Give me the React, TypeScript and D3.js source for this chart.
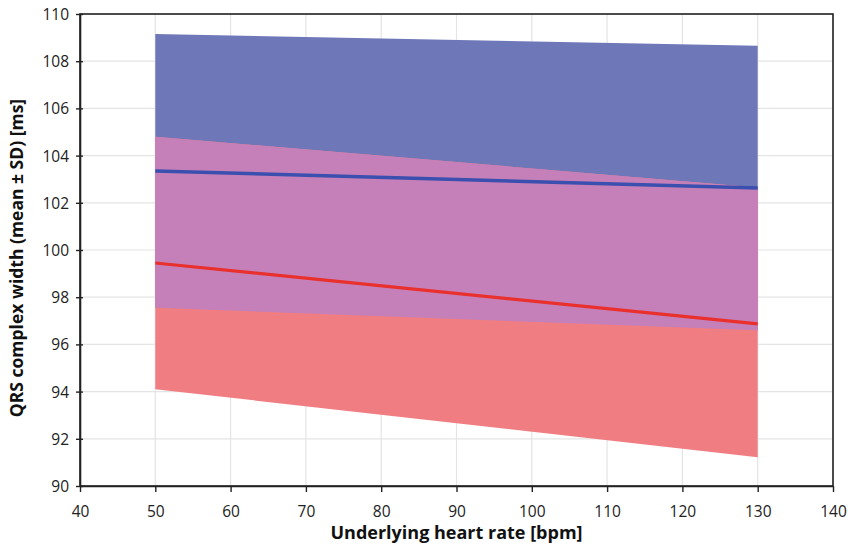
import React, { useEffect, useRef } from 'react';
import * as d3 from 'd3';

// heart rate endpoints (bpm)
const heartRate = [50, 130];
// group A (blue)
const blueMean = [103.35, 102.63];
const blueUpper = [109.15, 108.65];
const blueLower = [97.55, 96.6];
// group B (red)
const redMean = [99.45, 96.87];
const redUpper = [104.8, 102.65];
const redLower = [94.1, 91.22];

const xTicks = [40, 50, 60, 70, 80, 90, 100, 110, 120, 130, 140];
const yTicks = [90, 92, 94, 96, 98, 100, 102, 104, 106, 108, 110];

const App = () => {
  const ref = useRef<SVGSVGElement>(null);

  useEffect(() => {
    const svg = d3.select(ref.current);
    svg.selectAll('*').remove();

    const width = 848, height = 550;
    const left = 80, right = 833, top = 14, bottom = 486;
    const font = "'Open Sans', 'Noto Sans', sans-serif";

    const x = d3.scaleLinear().domain([40, 140]).range([left, right]);
    const y = d3.scaleLinear().domain([90, 110]).range([bottom, top]);

    svg.attr('width', width).attr('height', height);

    // grid
    const grid = svg.append('g');
    xTicks.forEach((t) => {
      grid.append('line')
        .attr('x1', x(t)).attr('x2', x(t))
        .attr('y1', top).attr('y2', bottom)
        .attr('stroke', '#e4e4e4').attr('stroke-width', 1.2);
    });
    yTicks.forEach((t) => {
      grid.append('line')
        .attr('x1', left).attr('x2', right)
        .attr('y1', y(t)).attr('y2', y(t))
        .attr('stroke', '#e4e4e4').attr('stroke-width', 1.2);
    });

    const idx = heartRate.map((_, i) => i);

    const band = (lo: number[], hi: number[]) =>
      d3.area<number>()
        .x((i) => x(heartRate[i]))
        .y0((i) => y(lo[i]))
        .y1((i) => y(hi[i]))(idx);

    svg.append('path').attr('d', band(blueLower, blueUpper)).attr('fill', '#6e77b8');
    svg.append('path').attr('d', band(redLower, redUpper)).attr('fill', '#f07d82');
    // overlap of the two bands
    const overLo = idx.map((i) => Math.max(blueLower[i], redLower[i]));
    const overHi = idx.map((i) => Math.min(blueUpper[i], redUpper[i]));
    svg.append('path').attr('d', band(overLo, overHi)).attr('fill', '#c580b9');

    const line = (vals: number[]) =>
      d3.line<number>()
        .x((i) => x(heartRate[i]))
        .y((i) => y(vals[i]))(idx);

    svg.append('path').attr('d', line(blueMean))
      .attr('fill', 'none').attr('stroke', '#3a4fae').attr('stroke-width', 3.5);
    svg.append('path').attr('d', line(redMean))
      .attr('fill', 'none').attr('stroke', '#e9302c').attr('stroke-width', 3.2);

    // frame
    svg.append('rect')
      .attr('x', left).attr('y', top)
      .attr('width', right - left).attr('height', bottom - top)
      .attr('fill', 'none').attr('stroke', '#222').attr('stroke-width', 1.6);

    // x axis
    const xAxis = svg.append('g').attr('transform', `translate(0,${bottom})`);
    xAxis.call(d3.axisBottom(x).ticks(50).tickFormat(() => '').tickSize(6).tickSizeOuter(0));
    xAxis.call(d3.axisBottom(x).tickValues(xTicks).tickFormat(d3.format('d')).tickSize(6).tickSizeOuter(0));
    xAxis.selectAll('path.domain').attr('stroke', '#222').attr('stroke-width', 1.6);
    xAxis.selectAll('line').attr('stroke', '#222').attr('stroke-width', 1.4);
    xAxis.selectAll('text')
      .attr('dy', 0).attr('y', 31)
      .attr('font-family', font).attr('font-size', 15.5).attr('fill', '#222');

    // y axis
    const yAxis = svg.append('g').attr('transform', `translate(${left},0)`);
    yAxis.call(d3.axisLeft(y).ticks(40).tickFormat(() => '').tickSize(6).tickSizeOuter(0));
    yAxis.call(d3.axisLeft(y).tickValues(yTicks).tickFormat(d3.format('d')).tickSize(6).tickSizeOuter(0));
    yAxis.selectAll('path.domain').attr('stroke', '#222').attr('stroke-width', 1.6);
    yAxis.selectAll('line').attr('stroke', '#222').attr('stroke-width', 1.4).attr('x2', 3).attr('x1', -4);
    yAxis.selectAll('text')
      .attr('x', -11).attr('dy', '0.35em')
      .attr('font-family', font).attr('font-size', 15.5).attr('fill', '#222');

    svg.append('text')
      .attr('x', (left + right) / 2).attr('y', 539)
      .attr('text-anchor', 'middle')
      .attr('font-family', font).attr('font-size', 18).attr('font-weight', 'bold').attr('fill', '#111')
      .text('Underlying heart rate [bpm]');

    svg.append('text')
      .attr('transform', `translate(23,${(top + bottom) / 2 + 8}) rotate(-90)`)
      .attr('text-anchor', 'middle')
      .attr('font-family', font).attr('font-size', 17.5).attr('font-weight', 'bold').attr('fill', '#111')
      .text('QRS complex width (mean ± SD) [ms]');
  }, []);

  return (
    <svg ref={ref} style={{ position: 'absolute', left: 0, top: 0, background: '#fff' }}></svg>
  );
};

export default App;
